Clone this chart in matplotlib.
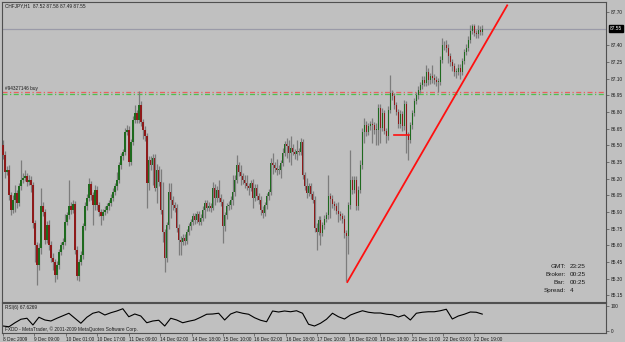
import numpy as np
import matplotlib
matplotlib.use('Agg')
import matplotlib.pyplot as plt

# CHFJPY H1 closes
close = [
    86.41, 86.26, 86.28, 86.05, 85.92, 86.01, 86.07, 85.98, 86.13, 86.19,
    86.21, 86.22, 86.17, 86.19, 86.14, 85.80, 85.60, 85.42, 85.58, 85.95,
    85.90, 85.65, 85.78, 85.60, 85.49, 85.45, 85.33, 85.42, 85.54, 85.60,
    85.63, 85.81, 85.87, 85.95, 85.92, 85.97, 85.56, 85.32, 85.45, 85.51,
    85.77, 85.95, 86.03, 86.15, 86.05, 85.96, 86.10, 85.96, 85.90, 85.86,
    85.90, 85.92, 85.95, 85.98, 86.03, 86.08, 86.13, 86.19, 86.32, 86.40,
    86.44, 86.62, 86.64, 86.35, 86.53, 86.73, 86.79, 86.73, 86.86, 86.71,
    86.64, 86.58, 86.16, 86.37, 86.32, 86.39, 86.12, 86.28, 86.17, 85.92,
    85.72, 85.49, 85.78, 86.08, 86.01, 85.96, 85.94, 85.76, 85.65, 85.63,
    85.67, 85.64, 85.72, 85.77, 85.81, 85.86, 85.83, 85.88, 85.81, 85.85,
    85.92, 85.98, 85.94, 85.95, 85.94, 86.12, 86.03, 86.10, 86.03, 85.99,
    85.77, 85.87, 85.95, 85.96, 86.01, 86.08, 86.19, 86.32, 86.26, 86.22,
    86.19, 86.16, 86.13, 86.12, 86.16, 86.03, 86.12, 86.04, 86.01, 85.92,
    85.89, 85.96, 86.04, 86.08, 86.34, 86.32, 86.30, 86.28, 86.28, 86.34,
    86.43, 86.51, 86.49, 86.43, 86.48, 86.44, 86.42, 86.45, 86.44, 86.53,
    86.23, 86.13, 86.07, 86.13, 86.06, 86.01, 85.76, 85.72, 85.83, 85.71,
    85.78, 85.84, 85.87, 86.04, 86.02, 85.97, 85.95, 85.91, 85.88, 85.86,
    85.84, 85.71, 85.68, 85.96, 86.19, 86.10, 86.19, 85.95, 86.10, 86.32,
    86.62, 86.68, 86.62, 86.67, 86.69, 86.68, 86.64, 86.64, 86.84, 86.66,
    86.79, 86.63, 86.58, 86.82, 86.97, 86.94, 86.86, 86.80, 86.69, 86.78,
    86.67, 86.87, 86.59, 86.55, 86.68, 86.79, 86.90, 86.95, 87.00, 87.04,
    87.09, 87.06, 87.16, 87.09, 87.12, 87.11, 87.09, 87.07, 87.07, 87.27,
    87.40, 87.40, 87.38, 87.30, 87.25, 87.21, 87.16, 87.16, 87.20, 87.16,
    87.26, 87.34, 87.38, 87.45, 87.53, 87.57, 87.51, 87.50, 87.54, 87.52,
    87.55,
]
high = [
    86.55, 86.45, 86.31, 86.32, 86.08, 86.05, 86.14, 86.10, 86.16, 86.37,
    86.25, 86.28, 86.25, 86.23, 86.22, 86.17, 85.83, 85.63, 85.62, 86.12,
    85.99, 85.93, 85.82, 85.83, 85.64, 85.53, 85.48, 85.46, 85.57, 85.63,
    85.67, 85.88, 85.90, 86.19, 85.99, 86.01, 86.00, 85.59, 85.48, 85.55,
    85.80, 85.99, 86.06, 86.21, 86.18, 86.08, 86.14, 86.13, 85.99, 85.93,
    85.93, 85.95, 85.98, 86.01, 86.06, 86.12, 86.16, 86.26, 86.35, 86.43,
    86.47, 86.66, 86.68, 86.67, 86.56, 86.76, 86.86, 86.82, 86.99, 86.90,
    86.74, 86.67, 86.61, 86.40, 86.40, 86.42, 86.42, 86.33, 86.31, 86.29,
    86.17, 85.75, 85.81, 86.16, 86.16, 86.04, 85.99, 85.97, 85.79, 85.68,
    85.70, 85.70, 85.75, 85.80, 85.84, 85.89, 85.89, 85.91, 85.91, 85.88,
    85.95, 86.01, 86.01, 85.99, 85.98, 86.17, 86.15, 86.13, 86.19, 86.06,
    86.02, 85.90, 85.98, 86.00, 86.04, 86.23, 86.23, 86.41, 86.35, 86.32,
    86.25, 86.23, 86.23, 86.16, 86.19, 86.20, 86.15, 86.15, 86.07, 86.04,
    85.95, 85.99, 86.07, 86.11, 86.39, 86.43, 86.35, 86.38, 86.32, 86.37,
    86.48, 86.54, 86.57, 86.55, 86.58, 86.51, 86.47, 86.55, 86.48, 86.57,
    86.56, 86.26, 86.21, 86.16, 86.16, 86.09, 86.04, 85.80, 85.86, 85.86,
    85.81, 85.87, 85.90, 86.23, 86.07, 86.05, 86.00, 85.98, 85.99, 85.91,
    85.89, 85.87, 85.74, 85.99, 86.46, 86.22, 86.22, 86.22, 86.13, 86.37,
    86.66, 86.75, 86.72, 86.70, 86.72, 86.75, 86.71, 86.70, 86.87, 86.87,
    86.84, 86.82, 86.66, 86.85, 87.13, 87.00, 86.97, 86.89, 86.83, 86.82,
    86.81, 86.91, 86.90, 86.62, 86.71, 86.82, 86.93, 86.98, 87.03, 87.07,
    87.12, 87.12, 87.22, 87.20, 87.15, 87.22, 87.14, 87.12, 87.11, 87.30,
    87.47, 87.44, 87.45, 87.41, 87.33, 87.28, 87.24, 87.20, 87.23, 87.23,
    87.29, 87.37, 87.41, 87.48, 87.58, 87.59, 87.59, 87.54, 87.58, 87.57,
    87.58,
]
low = [
    86.38, 86.21, 86.23, 86.01, 85.87, 85.89, 85.90, 85.94, 85.95, 86.10,
    86.16, 86.18, 86.13, 86.14, 86.08, 85.76, 85.45, 85.24, 85.38, 85.52,
    85.86, 85.61, 85.62, 85.56, 85.45, 85.38, 85.27, 85.30, 85.39, 85.51,
    85.57, 85.60, 85.78, 85.84, 85.88, 85.89, 85.52, 85.29, 85.28, 85.42,
    85.48, 85.74, 85.92, 86.00, 86.01, 85.78, 85.92, 85.92, 85.86, 85.78,
    85.83, 85.87, 85.89, 85.92, 85.95, 86.00, 86.05, 86.10, 86.16, 86.29,
    86.37, 86.41, 86.59, 86.31, 86.32, 86.50, 86.70, 86.70, 86.70, 86.67,
    86.56, 86.54, 85.94, 86.10, 86.28, 86.14, 86.09, 85.98, 86.13, 85.88,
    85.63, 85.36, 85.45, 85.75, 85.85, 85.92, 85.90, 85.72, 85.51, 85.51,
    85.60, 85.60, 85.61, 85.69, 85.74, 85.78, 85.79, 85.80, 85.78, 85.78,
    85.82, 85.85, 85.91, 85.91, 85.90, 85.92, 85.96, 85.99, 85.99, 85.95,
    85.62, 85.73, 85.84, 85.92, 85.93, 85.96, 86.04, 86.16, 86.22, 86.14,
    86.15, 86.12, 86.10, 86.05, 86.09, 85.94, 86.00, 86.01, 85.97, 85.87,
    85.85, 85.86, 85.93, 86.01, 86.05, 86.24, 86.26, 86.23, 86.24, 86.21,
    86.31, 86.40, 86.39, 86.35, 86.32, 86.41, 86.38, 86.37, 86.41, 86.41,
    86.20, 86.10, 86.03, 86.04, 86.02, 85.98, 85.72, 85.56, 85.69, 85.60,
    85.68, 85.75, 85.81, 85.84, 85.85, 85.94, 85.92, 85.88, 85.81, 85.83,
    85.80, 85.67, 85.28, 85.52, 85.93, 86.06, 86.07, 85.92, 85.92, 86.07,
    86.29, 86.52, 86.58, 86.59, 86.64, 86.52, 86.60, 86.50, 86.50, 86.52,
    86.63, 86.60, 86.52, 86.55, 86.79, 86.91, 86.83, 86.77, 86.66, 86.66,
    86.63, 86.64, 86.43, 86.37, 86.52, 86.65, 86.76, 86.87, 86.92, 86.97,
    87.01, 87.03, 87.03, 87.04, 87.05, 87.06, 87.05, 87.03, 86.98, 87.04,
    87.24, 87.36, 87.34, 87.24, 87.21, 87.17, 87.12, 87.11, 87.13, 87.10,
    87.13, 87.23, 87.31, 87.35, 87.42, 87.50, 87.48, 87.47, 87.47, 87.49,
    87.49,
]
first_open = 86.50

# RSI(6) line, one value every 3rd bar
rsi_values = [
    20, 17, 33, 47, 51, 24, 55, 44, 40, 51,
    61, 71, 51, 31, 55, 71, 77, 64, 73, 80,
    89, 57, 68, 60, 33, 40, 43, 20, 51, 44,
    33, 39, 44, 55, 67, 68, 71, 44, 68, 77,
    71, 67, 53, 43, 37, 80, 76, 80, 77, 81,
    71, 27, 20, 31, 47, 71, 57, 48, 64, 73,
    81, 75, 72, 72, 67, 65, 56, 64, 44, 71,
    75, 77, 77, 81, 87, 48, 60, 67, 76, 75,
    67.6,
]

time_labels = ['8 Dec 2009', '9 Dec 09:00', '10 Dec 01:00', '10 Dec 17:00',
               '11 Dec 09:00', '14 Dec 02:00', '14 Dec 18:00', '15 Dec 10:00',
               '16 Dec 02:00', '16 Dec 18:00', '17 Dec 10:00', '18 Dec 02:00',
               '18 Dec 18:00', '21 Dec 11:00', '22 Dec 03:00', '22 Dec 19:00']
price_ticks = [85.15, 85.30, 85.45, 85.60, 85.75, 85.90, 86.05, 86.20, 86.35,
               86.50, 86.65, 86.80, 86.95, 87.10, 87.25, 87.40, 87.70]

trend_hours = [175.3, 256.7]
trend_prices = [85.27, 87.76]
stop_hours = [199.0, 206.6]
stop_price = 86.59
order_open = 86.96
order_sl = 86.98
bid = 87.55

# open of each bar = close of the bar before
opens = [first_open] + close[:-1]
n = len(close)
# chart spans 245 hourly bars, my trace has a few less, so stretch onto hours
hours = np.arange(n) * 244 / (n - 1)

bg = '#C0C0C0'
frame = '#505050'
txt = '#1a1a1a'
green = '#1E6A1E'
red = '#8E1A1A'
font = 'Liberation Sans'

fig = plt.figure(figsize=(6.25, 3.42), dpi=100, facecolor=bg)
ax = fig.add_axes([2 / 625, 40 / 342, 604 / 625, 300 / 342], facecolor=bg)
ax2 = fig.add_axes([2 / 625, 9 / 342, 604 / 625, 30 / 342], facecolor=bg)

ax.set_xlim(-0.5, 307)
ax.set_ylim(85.09, 87.79)

ax.axhline(bid, color='#9a9aa8', lw=0.9, zorder=1)
ax.axhline(order_sl, color='#E86060', lw=0.9, ls=(0, (4, 2, 1, 2)), zorder=1)
ax.axhline(order_open, color='#50C050', lw=0.9, ls=(0, (4, 2, 1, 2)), zorder=1)
ax.text(1, order_sl + 0.01, '#94327146 buy', fontsize=3.4, color=txt,
        family=font, va='bottom')

ax.vlines(hours, low, high, color='#7c7c7c', lw=0.9, zorder=2)
o = np.array(opens)
c = np.array(close)
body = np.where(np.abs(c - o) < 0.006, 0.006, c - o)
cols = [green if cc >= oo else red for oo, cc in zip(o, c)]
ax.bar(hours, body, bottom=o, width=0.75, color=cols, lw=0, zorder=3)

ax.plot(trend_hours, trend_prices, color='#FF1010', lw=1.3, zorder=4)
ax.plot(stop_hours, [stop_price, stop_price], color='#FF1010', lw=1.2, zorder=4)

ax.yaxis.tick_right()
ax.set_yticks(price_ticks)
ax.set_yticklabels(['%.2f' % p for p in price_ticks], fontsize=3.4,
                   color=txt, family=font)
ax.tick_params(axis='y', length=2, width=0.5, color=frame, pad=1.5)
ax.set_xticks([])
for s in ax.spines.values():
    s.set_color(frame)
    s.set_linewidth(0.8)

ax.annotate('%.2f' % bid, xy=(1.0, bid), xycoords=('axes fraction', 'data'),
            xytext=(3, 0), textcoords='offset points', fontsize=3.4,
            color='white', family=font, va='center', ha='left',
            bbox=dict(boxstyle='square,pad=0.15', fc='black', ec='black'))

ax.text(0.005, 0.995, 'CHFJPY,H1  87.52 87.58 87.49 87.55', transform=ax.transAxes,
        fontsize=3.4, color=txt, family=font, va='top')

info = [('GMT:', '23:25'), ('Broker:', '00:25'), ('Bar:', '00:25'), ('Spread:', '4')]
for k, (lab, val) in enumerate(info):
    yy = 0.118 - k * 0.027
    ax.text(0.933, yy, lab, transform=ax.transAxes, fontsize=4.6, color=txt,
            family=font, ha='right', va='center')
    ax.text(0.94, yy, val, transform=ax.transAxes, fontsize=4.6, color=txt,
            family=font, ha='left', va='center')

# RSI sub window
ax2.plot(hours[::3], rsi_values, color='black', lw=0.8)
ax2.set_xlim(-0.5, 307)
ax2.set_ylim(-8, 112)
ax2.yaxis.tick_right()
ax2.set_yticks([0, 100])
ax2.set_yticklabels(['0', '100'], fontsize=3.4, color=txt, family=font)
ax2.tick_params(axis='y', length=2, width=0.5, color=frame, pad=1.5)
label_hours = np.arange(len(time_labels)) * 16
ax2.set_xticks(label_hours)
ax2.set_xticklabels(time_labels, fontsize=3.4, color=txt, family=font, ha='left')
ax2.tick_params(axis='x', length=2, width=0.5, color=frame, pad=1.2)
for s in ax2.spines.values():
    s.set_color(frame)
    s.set_linewidth(0.8)
ax2.text(0.005, 0.93, 'RSI(6) 67.6269', transform=ax2.transAxes, fontsize=3.4,
         color=txt, family=font, va='top')
ax2.text(0.005, 0.04, 'FXDD - MetaTrader, \u00a9 2001-2009 MetaQuotes Software Corp.',
         transform=ax2.transAxes, fontsize=3.4, color=txt, family=font, va='bottom')

fig.savefig('out.png', dpi=100, facecolor=bg)
